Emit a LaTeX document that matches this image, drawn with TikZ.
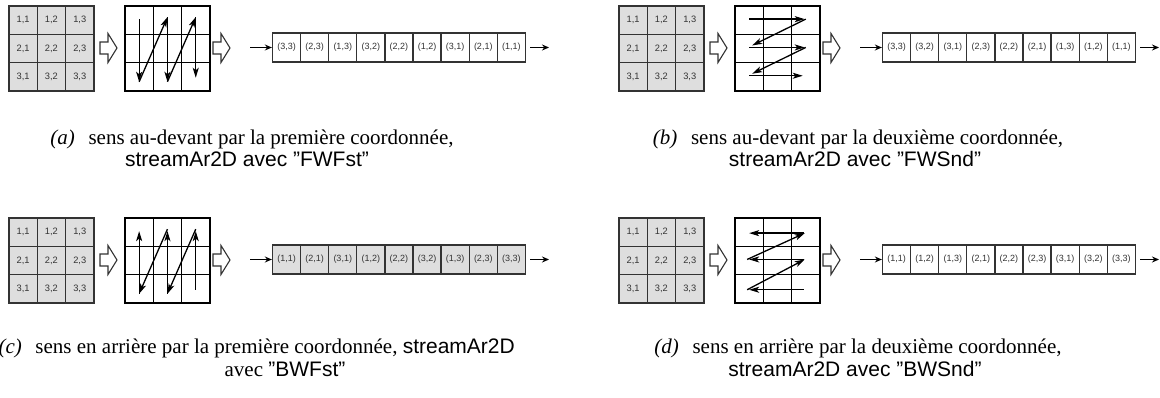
\documentclass[tikz,border=0pt]{standalone}
\usepackage{fontspec}
\setmainfont{Liberation Serif}
\setsansfont{Liberation Sans}
\usetikzlibrary{arrows.meta,calc}
\definecolor{cellgray}{HTML}{DEDEDE}
\definecolor{txtgray}{HTML}{333333}
\tikzset{
  gcell/.style={draw=black!80, line width=1.3pt, fill=cellgray, minimum width=28.3pt, minimum height=28.3pt, inner sep=0pt, font=\sffamily\fontsize{9.3}{10}\selectfont, text=txtgray},
  ecell/.style={draw=black, line width=1.5pt, minimum width=28.3pt, minimum height=28.3pt, inner sep=0pt},
  scell/.style={draw=black!80, line width=1.3pt, minimum width=28.1pt, minimum height=29pt, inner sep=0pt, font=\sffamily\fontsize{9}{10}\selectfont, text=txtgray},
  flow/.style={line width=1.3pt, -{Stealth[length=10pt,width=6pt,inset=2.5pt]}},
  link/.style={line width=1.4pt, -{Stealth[length=7pt,width=6pt]}},
  hollow/.style={draw=black!80, line width=1.1pt, fill=white, line join=miter},
  captxt/.style={inner sep=0pt, anchor=base, font=\fontsize{21}{24}\selectfont},
}
\newcommand\drawpanel[5]{%
\begin{scope}[shift={(#2,#3)}]
\foreach \r in {1,2,3}{\foreach \c in {1,2,3}{
  \node[gcell] (#1g\r\c) at ({9+28.3*(\c-0.5)},{6+28.3*(\r-0.5)}) {\r,\c};
  \node[ecell] (#1e\r\c) at ({125+28.3*(\c-0.5)},{6+28.3*(\r-0.5)}) {};
}}
\draw[hollow] (100,42)--(108,42)--(108,33.5)--(117,48)--(108,62.5)--(108,54)--(100,54)--cycle;
\draw[hollow] (213,42)--(221,42)--(221,33.5)--(230,48)--(221,62.5)--(221,54)--(213,54)--cycle;
\coordinate (#1in) at (250,47.5);
\foreach \p/\q [count=\i] in {#5}{
  \node[scell, fill=#4] (#1s\i) at ({272.5+28.1*(\i-0.5)},47.5) {(\p,\q)};
}
\coordinate (#1out) at (549,47.5);
\draw[link] (#1in) -- (#1s1);
\draw[link] ([xshift=4pt]#1s9.east) -- (#1out);
\end{scope}}
\begin{document}
\begin{tikzpicture}[x=1pt,y=-1pt]
\useasboundingbox (0,0) rectangle (1160,398);
% (a)
\drawpanel{a}{0}{0}{white}{3/3,2/3,1/3,3/2,2/2,1/2,3/1,2/1,1/1}
\draw[flow] ([yshift=1pt]ae11.center) -- ([yshift=-5pt]ae31.center);
\draw[flow] ([yshift=-5pt]ae31.center) -- ([yshift=3pt]ae12.center);
\draw[flow] ([yshift=3pt]ae12.center) -- ([yshift=-5pt]ae32.center);
\draw[flow] ([yshift=-5pt]ae32.center) -- ([yshift=3pt]ae13.center);
\draw[flow] ([yshift=3pt]ae13.center) -- ([yshift=-1pt]ae33.center);
% (b)
\drawpanel{b}{610}{0}{white}{3/3,3/2,3/1,2/3,2/2,2/1,1/3,1/2,1/1}
\draw[flow] ([yshift=1pt]be11.center) -- ([xshift=-1pt,yshift=1pt]be13.center);
\draw[flow] ([yshift=1pt]be13.center) -- ([xshift=3pt,yshift=3pt]be21.center);
\draw[flow] ([yshift=1pt]be21.center) -- ([xshift=-1pt,yshift=1pt]be23.center);
\draw[flow] ([yshift=1pt]be23.center) -- ([xshift=3pt,yshift=3pt]be31.center);
\draw[flow] ([yshift=1pt]be31.center) -- ([xshift=-3pt,yshift=1pt]be33.center);
% (c)
\drawpanel{c}{0}{212}{cellgray}{1/1,2/1,3/1,1/2,2/2,3/2,1/3,2/3,3/3}
\draw[flow] ([yshift=-5pt]ce31.center) -- ([yshift=1pt]ce11.center);
\draw[flow] ([yshift=3pt]ce12.center) -- ([yshift=-5pt]ce31.center);
\draw[flow] ([yshift=-5pt]ce32.center) -- ([yshift=1pt]ce12.center);
\draw[flow] ([yshift=3pt]ce13.center) -- ([yshift=-5pt]ce32.center);
\draw[flow] ([yshift=-1pt]ce33.center) -- ([yshift=1pt]ce13.center);
% (d)
\drawpanel{d}{610}{212}{white}{1/1,1/2,1/3,2/1,2/2,2/3,3/1,3/2,3/3}
\draw[flow] ([xshift=-2pt,yshift=-1pt]de13.center) -- ([yshift=-1pt]de11.center);
\draw[flow] ([xshift=-2pt,yshift=1pt]de21.center) -- ([xshift=-1pt,yshift=-1pt]de13.center);
\draw[flow] ([xshift=-2pt,yshift=1pt]de23.center) -- ([yshift=1pt]de21.center);
\draw[flow] ([xshift=-2pt,yshift=-1pt]de31.center) -- ([xshift=-1pt,yshift=1pt]de23.center);
\draw[flow] ([xshift=-2pt,yshift=-1pt]de33.center) -- ([yshift=-1pt]de31.center);
% captions
\node[captxt] (capa1) at (252,145) {\textit{(a)}\hspace{0.4em} sens au-devant par la première coordonnée,};
\node[captxt] (capa2) at (247,167) {\sffamily streamAr2D avec "FWFst"};
\node[captxt] (capb1) at (858,145) {\textit{(b)}\hspace{0.4em} sens au-devant par la deuxième coordonnée,};
\node[captxt] (capb2) at (855,167) {\sffamily streamAr2D avec "FWSnd"};
\node[captxt, anchor=base east] (capc1) at (515,353) {\textit{(c)}\hspace{0.4em} sens en arrière par la première coordonnée, {\sffamily streamAr2D}};
\node[captxt] (capc2) at (285,376) {avec {\sffamily "BWFst"}};
\node[captxt] (capd1) at (858,353) {\textit{(d)}\hspace{0.4em} sens en arrière par la deuxième coordonnée,};
\node[captxt] (capd2) at (855,376) {\sffamily streamAr2D avec "BWSnd"};
\end{tikzpicture}
\end{document}
